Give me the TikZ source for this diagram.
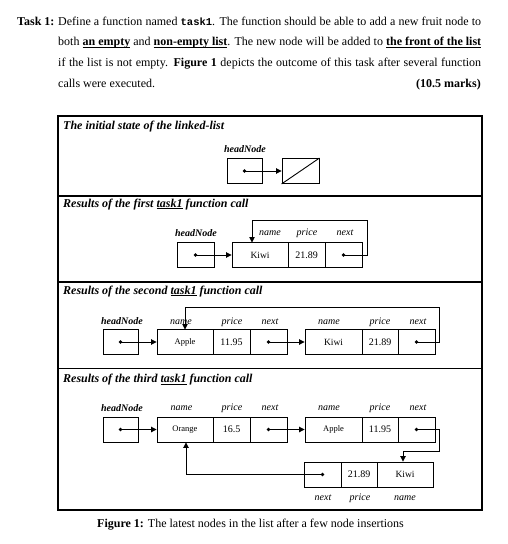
\documentclass[tikz,border=0pt]{standalone}
\usepackage{fontspec}
\setmainfont{Liberation Serif}
\setmonofont{Liberation Mono}
\usetikzlibrary{arrows.meta}
\newcommand{\thickul}[2]{\setbox0\hbox{#2}\rlap{\rule[-2.2pt]{\wd0}{#1}}\box0\relax}
\begin{document}
\begin{tikzpicture}[x=1pt,y=-1pt,
  txt/.style={inner sep=0pt, font=\fontsize{12}{14}\selectfont},
  sect/.style={inner sep=0pt, anchor=base west, font=\fontsize{12}{14}\selectfont\bfseries\itshape},
  hlab/.style={inner sep=0pt, font=\fontsize{10}{12}\selectfont\bfseries\itshape},
  flab/.style={inner sep=0pt, font=\fontsize{10}{12}\selectfont\itshape},
  cell/.style={draw=black, line width=0.9pt, minimum height=25pt, inner sep=0pt, font=\fontsize{10}{12}\selectfont},
  ptr/.style={line width=0.9pt, -{Triangle[length=5.5pt,width=5.5pt]}},
  lnk/.style={line width=0.9pt},
  frame/.style={line width=1.1pt}]
\useasboundingbox (0,0) rectangle (508,544);
% ---- task text
\node[txt, anchor=base west, font=\fontsize{12}{14}\selectfont\bfseries] (tlabel) at (17,25) {Task 1:};
\node[txt, anchor=base west] (l1) at (58,25) {\makebox[423pt][s]{Define a function named {\fontsize{10.5}{12}\selectfont\ttfamily\bfseries task1}. The function should be able to add a new fruit node to}};
\node[txt, anchor=base west] (l2) at (58,45.7) {\makebox[423pt][s]{both \textbf{\thickul{1.2pt}{an empty}} and \textbf{\thickul{1.2pt}{non-empty list}}. The new node will be added to \textbf{\thickul{1.2pt}{the front of the list}}}};
\node[txt, anchor=base west] (l3) at (58,66.4) {\makebox[423pt][s]{if the list is not empty. \textbf{Figure 1} depicts the outcome of this task after several function}};
\node[txt, anchor=base west] (l4) at (58,87.1) {calls were executed.};
\node[txt, anchor=base east, font=\fontsize{12}{14}\selectfont\bfseries] (marks) at (481,87.1) {(10.5 marks)};
% ---- frame
\draw[frame] (58,116) rectangle (482,510);
\draw[frame] (58,196) -- (482,196);
\draw[frame] (58,282) -- (482,282);
\draw[frame] (58,368.5) -- (482,368.5);
\node[sect] (s1) at (63,129.5) {The initial state of the linked-list};
\node[sect] (s2) at (63,207) {Results of the first \thickul{0.8pt}{task1} function call};
\node[sect] (s3) at (63,294) {Results of the second \thickul{0.8pt}{task1} function call};
\node[sect] (s4) at (63,382.5) {Results of the third \thickul{0.8pt}{task1} function call};
% ---- section 1
\node[hlab] (hn1) at (245,149) {headNode};
\node[cell, minimum width=35pt] (headA) at (244.5,171) {};
\node[cell, minimum width=37pt] (nullA) at (300.5,171) {};
\draw[lnk] (nullA.south west) -- (nullA.north east);
\fill (headA.center) circle (1.8pt);
\draw[ptr] (headA.center) -- (nullA.west);
% ---- section 2
\node[hlab] (hn2) at (196,233) {headNode};
\node[flab] (ln2a) at (270,233) {name};
\node[flab] (lp2a) at (307,233) {price};
\node[flab] (lx2a) at (345,233) {next};
\node[cell, minimum width=37pt] (headB) at (195.5,255) {};
\node[cell, minimum width=56pt, font=\fontsize{9.5}{11}\selectfont] (kname) at (260,255) {Kiwi};
\node[cell, minimum width=37pt] (kprice) at (306.5,255) {21.89};
\node[cell, minimum width=37pt] (knext) at (343.5,255) {};
\fill (headB.center) circle (1.8pt);
\draw[ptr] (headB.center) -- (kname.west);
\fill (knext.center) circle (1.8pt);
\coordinate (b1) at (367,255);
\coordinate (b2) at (367,220);
\coordinate (b3) at (252,220);
\coordinate (b4) at (252,242.5);
\draw[ptr] (knext.center) -- (b1) -- (b2) -- (b3) -- (b4);
% ---- section 3
\node[hlab] (hn3) at (122,321) {headNode};
\node[flab] (ln3a) at (181,322) {name};
\node[flab] (lp3a) at (232,322) {price};
\node[flab] (lx3a) at (270,322) {next};
\node[flab] (ln3b) at (329,322) {name};
\node[flab] (lp3b) at (380,322) {price};
\node[flab] (lx3b) at (418,322) {next};
\node[cell, minimum width=35pt] (headC) at (120.5,342) {};
\node[cell, minimum width=56pt, font=\fontsize{8.5}{10}\selectfont] (aname) at (185,342) {Apple};
\node[cell, minimum width=37pt] (aprice) at (231.5,342) {11.95};
\node[cell, minimum width=37pt] (anext) at (268.5,342) {};
\node[cell, minimum width=57pt, font=\fontsize{9.5}{11}\selectfont] (kname2) at (333.5,342) {Kiwi};
\node[cell, minimum width=36pt] (kprice2) at (380,342) {21.89};
\node[cell, minimum width=37pt] (knext2) at (416.5,342) {};
\fill (headC.center) circle (1.8pt);
\draw[ptr] (headC.center) -- (aname.west);
\fill (anext.center) circle (1.8pt);
\draw[ptr] (anext.center) -- (kname2.west);
\fill (knext2.center) circle (1.8pt);
\coordinate (c1) at (439,342);
\coordinate (c2) at (439,307);
\coordinate (c3) at (185,307);
\coordinate (c4) at (185,329.5);
\draw[ptr] (knext2.center) -- (c1) -- (c2) -- (c3) -- (c4);
% ---- section 4
\node[hlab] (hn4) at (122,408) {headNode};
\node[flab] (ln4a) at (181.5,408) {name};
\node[flab] (lp4a) at (232,408) {price};
\node[flab] (lx4a) at (270,408) {next};
\node[flab] (ln4b) at (329,408) {name};
\node[flab] (lp4b) at (380,408) {price};
\node[flab] (lx4b) at (418,408) {next};
\node[cell, minimum width=35pt] (headD) at (120.5,429.5) {};
\node[cell, minimum width=56pt, font=\fontsize{8.5}{10}\selectfont] (oname) at (185,429.5) {Orange};
\node[cell, minimum width=37pt] (oprice) at (231.5,429.5) {16.5};
\node[cell, minimum width=37pt] (onext) at (268.5,429.5) {};
\node[cell, minimum width=57pt, font=\fontsize{8.5}{10}\selectfont] (aname2) at (333.5,429.5) {Apple};
\node[cell, minimum width=36pt] (aprice2) at (380,429.5) {11.95};
\node[cell, minimum width=37pt] (anext2) at (416.5,429.5) {};
\node[cell, minimum width=37pt] (knext3) at (322.5,474.5) {};
\node[cell, minimum width=36pt] (kprice3) at (359,474.5) {21.89};
\node[cell, minimum width=56pt, font=\fontsize{9.5}{11}\selectfont] (kname3) at (405,474.5) {Kiwi};
\node[flab] (lx4c) at (323,498) {next};
\node[flab] (lp4c) at (360,498) {price};
\node[flab] (ln4c) at (405,498) {name};
\fill (headD.center) circle (1.8pt);
\draw[ptr] (headD.center) -- (oname.west);
\fill (onext.center) circle (1.8pt);
\draw[ptr] (onext.center) -- (aname2.west);
\fill (anext2.center) circle (1.8pt);
\coordinate (d1) at (439,429.5);
\coordinate (d2) at (439,451);
\coordinate (d3) at (403,451);
\draw[ptr] (anext2.center) -- (d1) -- (d2) -- (d3) -- (d3 |- kname3.north);
\fill (knext3.center) circle (1.8pt);
\coordinate (e1) at (186,474.5);
\draw[ptr] (knext3.center) -- (e1) -- (e1 |- oname.south);
% ---- caption
\node[txt, anchor=base west, font=\fontsize{12}{14}\selectfont] (cap) at (97,527) {\textbf{Figure 1:} The latest nodes in the list after a few node insertions};
\end{tikzpicture}
\end{document}
